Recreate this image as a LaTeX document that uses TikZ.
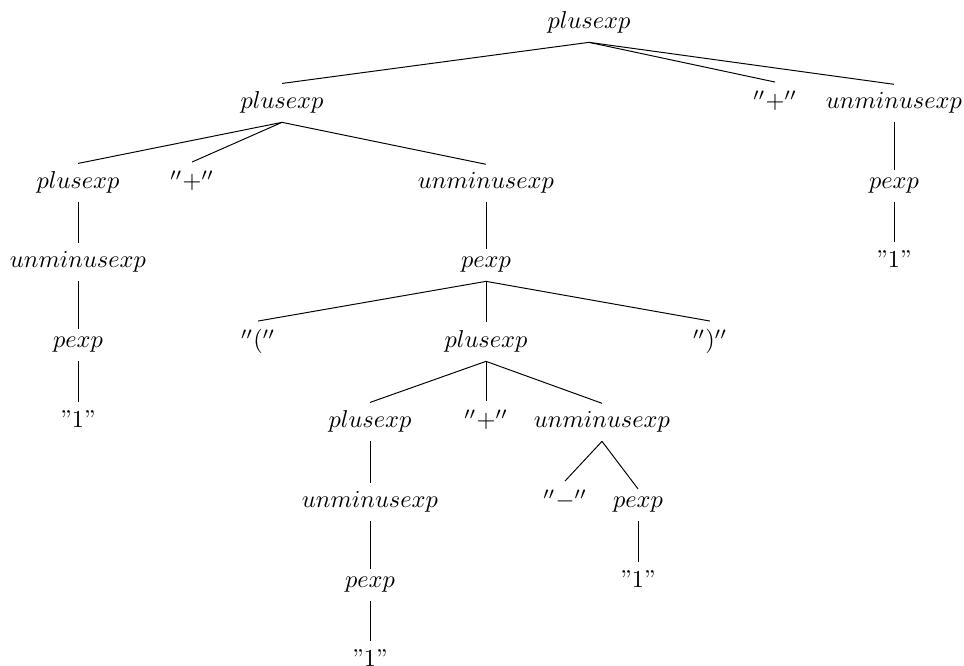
\documentclass[tikz,border=0pt]{standalone}
\begin{document}
\begin{tikzpicture}[x=0.41pt,y=-0.41pt,
  tn/.style={anchor=base,inner sep=3.33pt},
  edge/.style={line width=0.4pt}]
\useasboundingbox (0,0) rectangle (964,666);
% row 0
\node[tn] (n0) at (589,29) {$plusexp$};
% row 1
\node[tn] (n1) at (282,109) {$plusexp$};
\node[tn] (n2) at (775,109) {$''+''$};
\node[tn] (n3) at (894,109) {$unminusexp$};
% row 2
\node[tn] (n4) at (78,189) {$plusexp$};
\node[tn] (n5) at (192,189) {$''+''$};
\node[tn] (n6) at (486,189) {$unminusexp$};
\node[tn] (n7) at (894,189) {$pexp$};
% row 3
\node[tn] (n8) at (78,268) {$unminusexp$};
\node[tn] (n9) at (486,268) {$pexp$};
\node[tn] (n10) at (894,268) {''1''};
% row 4
\node[tn] (n11) at (78,348) {$pexp$};
\node[tn] (n12) at (258,348) {$''(''$};
\node[tn] (n13) at (486,348) {$plusexp$};
\node[tn] (n14) at (710,348) {$'')''$};
% row 5
\node[tn] (n15) at (78,428) {''1''};
\node[tn] (n16) at (370,428) {$plusexp$};
\node[tn] (n17) at (486,428) {$''+''$};
\node[tn] (n18) at (602,428) {$unminusexp$};
% row 6
\node[tn] (n19) at (370,508) {$unminusexp$};
\node[tn] (n20) at (565,508) {$''-''$};
\node[tn] (n21) at (638,508) {$pexp$};
% row 7
\node[tn] (n22) at (370,588) {$pexp$};
\node[tn] (n23) at (638,588) {''1''};
% row 8
\node[tn] (n24) at (370,667) {''1''};
% edges
\foreach \p/\c in {n0/n1,n0/n2,n0/n3,n1/n4,n1/n5,n1/n6,n3/n7,n7/n10,
  n4/n8,n8/n11,n11/n15,n6/n9,n9/n12,n9/n13,n9/n14,
  n13/n16,n13/n17,n13/n18,n16/n19,n19/n22,n22/n24,
  n18/n20,n18/n21,n21/n23}
  \draw[edge] (\p.south) -- (\c.north);
\end{tikzpicture}
\end{document}
